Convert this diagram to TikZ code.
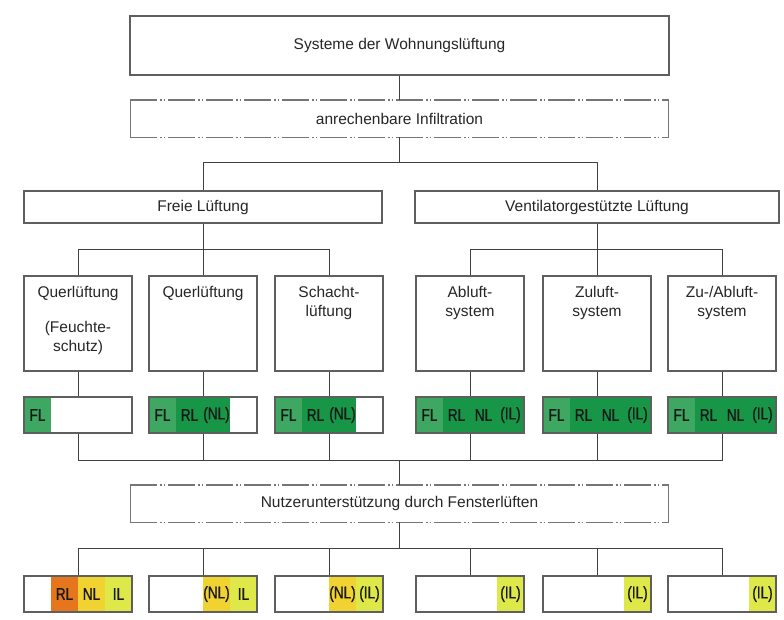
\documentclass[tikz,border=0pt]{standalone}
\usepackage{fontspec}
\setmainfont{Liberation Sans}
\newfontfamily\barfont{Liberation Sans}[FakeStretch=0.8, FakeBold=1]
\usetikzlibrary{ positioning, % For segments placed side by side
               }
\definecolor{flgreen}{RGB}{62,168,98}
\definecolor{rlgreen}{RGB}{24,150,72}
\definecolor{rlorange}{RGB}{230,118,30}
\definecolor{nlyellow}{RGB}{240,210,48}
\definecolor{ilyellow}{RGB}{222,232,72}
\definecolor{boxline}{RGB}{95,95,95}
\definecolor{infgray}{RGB}{118,118,118}
\tikzstyle{link} = [draw=black!75, line width=1pt]
\tikzstyle{box} = [rectangle, draw=boxline, line width=1.2pt, minimum height=37pt, inner sep=0pt]
\tikzstyle{infbox} = [rectangle, minimum height=37pt, inner sep=0pt]
\tikzstyle{infline} = [draw=infgray, line width=1.4pt, dash pattern=on 27pt off 3pt on 1.5pt off 2pt on 1.5pt off 3pt]
\tikzstyle{infside} = [draw=infgray, line width=1.4pt]
\tikzstyle{sysbox} = [box, minimum width=108pt, minimum height=95pt]
\tikzstyle{boxtext} = [anchor=north, align=center, inner sep=0pt, yshift=-11pt]
\tikzstyle{seg} = [rectangle, minimum width=27pt, minimum height=36pt, inner sep=0pt, outer sep=0pt, font=\barfont\fontsize{17}{17}\selectfont, text=black!90]
\tikzstyle{bar} = [rectangle, draw=boxline, line width=1.2pt, minimum width=108pt, minimum height=36pt, inner sep=0pt]

\begin{document}
\begin{tikzpicture}[x=1pt, y=-1pt, font=\fontsize{15.5}{19}\selectfont, text=black!85]
  \useasboundingbox (0,0) rectangle (784,619);
  % upper part
  \node (sys) [box, minimum width=539pt, minimum height=59pt] at (399.5,45.5) {Systeme der Wohnungslüftung};
  \node (inf) [infbox, minimum width=538pt] at (399.5,118.5) {anrechenbare Infiltration};
  \draw [infline] (inf.north west) -- (inf.north east) (inf.south west) -- (inf.south east);
  \draw [infside] (inf.north west) -- (inf.south west) (inf.north east) -- (inf.south east);
  \node (fr) [box, minimum width=358pt, minimum height=32pt] at (203,207) {Freie Lüftung};
  \node (vl) [box, minimum width=364pt, minimum height=32pt] at (597,207) {Ventilatorgestützte Lüftung};

  \node (q1) [sysbox, label={[boxtext]north:{Querlüftung\\[16pt](Feuchte-\\schutz)}}] at (78,323.5) {};
  \node (q2) [sysbox, label={[boxtext]north:{Querlüftung}}] at (203,323.5) {};
  \node (q3) [sysbox, label={[boxtext]north:{Schacht-\\lüftung}}] at (329,323.5) {};
  \node (ab) [sysbox, label={[boxtext]north:{Abluft-\\system}}] at (470,323.5) {};
  \node (zu) [sysbox, label={[boxtext]north:{Zuluft-\\system}}] at (597,323.5) {};
  \node (za) [sysbox, label={[boxtext]north:{Zu-/Abluft-\\system}}] at (722,323.5) {};

  % bars below the systems
  \node (b1a) [seg, fill=flgreen] at (37.5,415) {FL};
  \node (b1) [bar] at (78,415) {};

  \node (b2a) [seg, fill=flgreen] at (162.5,415) {FL};
  \node (b2b) [seg, fill=rlgreen, right=0pt of b2a] {RL};
  \node (b2c) [seg, fill=rlgreen, right=0pt of b2b] {(NL)};
  \node (b2) [bar] at (203,415) {};

  \node (b3a) [seg, fill=flgreen] at (288.5,415) {FL};
  \node (b3b) [seg, fill=rlgreen, right=0pt of b3a] {RL};
  \node (b3c) [seg, fill=rlgreen, right=0pt of b3b] {(NL)};
  \node (b3) [bar] at (329,415) {};

  \node (b4a) [seg, fill=flgreen] at (429.5,415) {FL};
  \node (b4b) [seg, fill=rlgreen, right=0pt of b4a] {RL};
  \node (b4c) [seg, fill=rlgreen, right=0pt of b4b] {NL};
  \node (b4d) [seg, fill=rlgreen, right=0pt of b4c] {(IL)};
  \node (b4) [bar] at (470,415) {};

  \node (b5a) [seg, fill=flgreen] at (556.5,415) {FL};
  \node (b5b) [seg, fill=rlgreen, right=0pt of b5a] {RL};
  \node (b5c) [seg, fill=rlgreen, right=0pt of b5b] {NL};
  \node (b5d) [seg, fill=rlgreen, right=0pt of b5c] {(IL)};
  \node (b5) [bar] at (597,415) {};

  \node (b6a) [seg, fill=flgreen] at (681.5,415) {FL};
  \node (b6b) [seg, fill=rlgreen, right=0pt of b6a] {RL};
  \node (b6c) [seg, fill=rlgreen, right=0pt of b6b] {NL};
  \node (b6d) [seg, fill=rlgreen, right=0pt of b6c] {(IL)};
  \node (b6) [bar] at (722,415) {};

  % lower part
  \node (nu) [infbox, minimum width=538pt] at (399.5,503.5) {Nutzerunterstützung durch Fensterlüften};
  \draw [infline] (nu.north west) -- (nu.north east) (nu.south west) -- (nu.south east);
  \draw [infside] (nu.north west) -- (nu.south west) (nu.north east) -- (nu.south east);

  \node (c1b) [seg, fill=rlorange] at (64.5,594) {RL};
  \node (c1c) [seg, fill=nlyellow, right=0pt of c1b] {NL};
  \node (c1d) [seg, fill=ilyellow, right=0pt of c1c] {IL};
  \node (c1) [bar] at (78,594) {};

  \node (c2c) [seg, fill=nlyellow] at (216.5,594) {(NL)};
  \node (c2d) [seg, fill=ilyellow, right=0pt of c2c] {IL};
  \node (c2) [bar] at (203,594) {};

  \node (c3c) [seg, fill=nlyellow] at (342.5,594) {(NL)};
  \node (c3d) [seg, fill=ilyellow, right=0pt of c3c] {(IL)};
  \node (c3) [bar] at (329,594) {};

  \node (c4d) [seg, fill=ilyellow] at (510.5,594) {(IL)};
  \node (c4) [bar] at (470,594) {};
  \node (c5d) [seg, fill=ilyellow] at (637.5,594) {(IL)};
  \node (c5) [bar] at (597,594) {};
  \node (c6d) [seg, fill=ilyellow] at (762.5,594) {(IL)};
  \node (c6) [bar] at (722,594) {};

  % connectors
  \draw [link] (sys) -- (inf);
  \draw [link] (inf.south) -- ++(0,25) -| (fr.north);
  \draw [link] (inf.south) -- ++(0,25) -| (vl.north);
  \draw [link] (fr.south) -- ++(0,26) -| (q1.north);
  \draw [link] (fr) -- (q2);
  \draw [link] (fr.south) -- ++(0,26) -| (q3.north);
  \draw [link] (vl.south) -- ++(0,26) -| (ab.north);
  \draw [link] (vl) -- (zu);
  \draw [link] (vl.south) -- ++(0,26) -| (za.north);
  \draw [link] (q1) -- (b1);
  \draw [link] (q2) -- (b2);
  \draw [link] (q3) -- (b3);
  \draw [link] (ab) -- (b4);
  \draw [link] (zu) -- (b5);
  \draw [link] (za) -- (b6);
  \draw [link] (b1.south) -- ++(0,27) -| (nu.north);
  \draw [link] (b2.south) -- ++(0,27) -| (nu.north);
  \draw [link] (b3.south) -- ++(0,27) -| (nu.north);
  \draw [link] (b4.south) -- ++(0,27) -| (nu.north);
  \draw [link] (b5.south) -- ++(0,27) -| (nu.north);
  \draw [link] (b6.south) -- ++(0,27) -| (nu.north);
  \draw [link] (nu.south) -- ++(0,26) -| (c1.north);
  \draw [link] (nu.south) -- ++(0,26) -| (c2.north);
  \draw [link] (nu.south) -- ++(0,26) -| (c3.north);
  \draw [link] (nu.south) -- ++(0,26) -| (c4.north);
  \draw [link] (nu.south) -- ++(0,26) -| (c5.north);
  \draw [link] (nu.south) -- ++(0,26) -| (c6.north);
\end{tikzpicture}
\end{document}
